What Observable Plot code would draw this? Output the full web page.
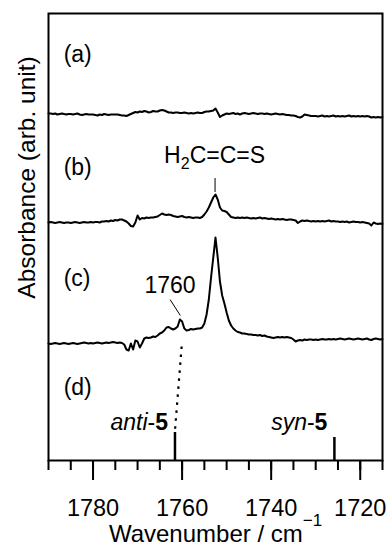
<!DOCTYPE html>
<html><head><meta charset="utf-8">
<script src="https://cdn.jsdelivr.net/npm/d3@7"></script>
<script src="https://cdn.jsdelivr.net/npm/@observablehq/plot@0.6"></script>
<style>
body{margin:0;background:#fff;}
svg{display:block;}
</style>
</head><body><div id="chart"></div>
<script>
// Wavenumber sampling grid (cm^-1), 1790 -> 1715 in 0.5 steps
const wavenumbers = d3.range(1790, 1714.9, -0.5);

// Trace (a) relative absorbance (arb. unit)
const traceA = [
 0.02,0.02,0.015,0.02,0.01,0.015,0.02,0.015,0.01,0.015,
 0.015,0.01,0.015,0.02,0.01,0.005,0.01,0.015,0.01,0.01,
 0.01,0.005,0.0,0.01,0.005,0.015,0.01,0.005,0.01,0.01,
 0.01,0.01,0.005,0.0,0.0,-0.005,0.005,0.015,0.025,0.035,
 0.03,0.04,0.035,0.045,0.04,0.03,0.035,0.045,0.04,0.04,
 0.05,0.055,0.05,0.04,0.03,0.03,0.025,0.03,0.03,0.025,
 0.025,0.03,0.025,0.02,0.025,0.02,0.025,0.03,0.025,0.025,
 0.035,0.04,0.04,0.045,0.05,0.07,0.03,-0.015,0.0,0.01,
 0.02,0.015,0.02,0.025,0.015,0.02,0.01,0.02,0.025,0.02,
 0.015,0.02,0.025,0.02,0.015,0.02,0.02,0.015,0.02,0.015,
 0.01,0.015,0.02,0.015,0.01,0.015,0.01,0.005,0.005,0.0,
 0.0,-0.005,-0.015,-0.02,-0.01,0.01,0.005,0.0,-0.005,-0.005,
 -0.005,-0.01,-0.005,0.0,-0.01,-0.005,-0.01,-0.005,0.0,-0.01,
 -0.005,-0.01,-0.005,-0.01,-0.005,0.0,-0.01,-0.005,-0.01,-0.005,
 -0.01,-0.005,-0.01,-0.005,-0.01,-0.02,-0.015,-0.02,-0.015,-0.02,
 -0.015
];
// Trace (b)
const traceB = [
 0.0,0.005,0.0,-0.005,0.0,0.005,0.0,-0.005,0.0,0.0,
 -0.005,0.0,0.005,0.0,-0.005,0.0,0.005,0.0,0.0,0.005,
 0.0,0.005,0.005,0.0,0.01,0.01,0.015,0.01,0.02,0.015,
 0.025,0.02,0.03,0.03,0.02,0.01,-0.01,-0.035,-0.04,0.0,
 0.07,0.03,0.045,0.04,0.05,0.045,0.05,0.05,0.055,0.06,
 0.075,0.09,0.08,0.075,0.08,0.075,0.065,0.06,0.055,0.06,
 0.065,0.055,0.05,0.055,0.05,0.045,0.05,0.05,0.045,0.055,
 0.08,0.11,0.15,0.2,0.25,0.28,0.23,0.15,0.12,0.115,
 0.105,0.08,0.055,0.05,0.045,0.05,0.045,0.05,0.045,0.05,
 0.045,0.04,0.045,0.04,0.045,0.05,0.04,0.045,0.04,0.035,
 0.04,0.035,0.03,0.035,0.03,0.035,0.03,0.025,0.03,0.03,
 0.025,0.02,-0.005,0.01,0.02,0.015,0.02,0.015,0.01,0.015,
 0.01,0.015,0.01,0.015,0.01,0.015,0.02,0.01,0.015,0.01,
 0.01,0.005,0.01,0.005,0.01,0.0,0.005,0.01,0.005,0.005,
 0.0,0.005,0.0,-0.005,-0.01,-0.03,0.0,-0.01,-0.015,-0.01,
 -0.015
];
// Trace (c)
const traceC = [
 0.0,-0.005,0.0,0.005,0.0,-0.005,0.0,0.005,0.0,-0.005,
 0.0,0.005,0.0,-0.005,0.0,0.005,0.01,0.005,0.0,0.005,
 0.0,0.005,0.01,0.005,0.0,0.005,0.01,0.005,0.01,0.015,
 0.01,0.005,0.01,0.005,-0.01,-0.06,-0.07,0.0,-0.06,0.03,
 0.02,-0.04,0.0,0.05,0.06,0.055,0.06,0.07,0.065,0.08,
 0.1,0.11,0.13,0.16,0.165,0.15,0.14,0.15,0.17,0.24,
 0.22,0.15,0.13,0.135,0.145,0.14,0.145,0.15,0.15,0.16,
 0.2,0.29,0.44,0.66,0.86,1.06,0.86,0.62,0.48,0.40,
 0.31,0.23,0.18,0.15,0.13,0.115,0.11,0.1,0.1,0.095,
 0.09,0.09,0.085,0.085,0.08,0.085,0.075,0.08,0.07,0.065,
 0.06,0.055,0.06,0.065,0.06,0.065,0.06,0.065,0.06,0.055,
 0.04,0.02,0.03,0.035,0.03,0.04,0.035,0.04,0.04,0.035,
 0.04,0.035,0.04,0.045,0.04,0.04,0.045,0.04,0.045,0.04,
 0.045,0.05,0.045,0.04,0.045,0.05,0.045,0.04,0.045,0.05,
 0.045,0.04,0.045,0.05,0.04,0.035,0.045,0.05,0.045,0.04,
 0.045
];
const traces = [traceA, traceB, traceC];
const traceOffsets = [3.45, 2.38, 1.17];
const panelLabels = ["(a)", "(b)", "(c)", "(d)"];

// (d) calculated stick spectrum
const stickWavenumbers = [1761.6, 1725.8];
const stickIntensities = [0.28, 0.23];
const stickLabels = ["anti-5", "syn-5"];

// Axis ticks
const majorTicks = [1780, 1760, 1740, 1720];
const minorTicks = [1790, 1785, 1780, 1775, 1770, 1765, 1760, 1755, 1750, 1745, 1740, 1735, 1730, 1725, 1720, 1715];

// Annotations
const peakAnnotations = ["H2C=C=S", "1760"];

// ---- build tables ----
const rows = traces.flatMap((vals, k) =>
  vals.map((v, i) => ({trace: panelLabels[k], wn: wavenumbers[i], y: v + traceOffsets[k]})));
const sticks = stickWavenumbers.map((wn, i) => ({wn, h: stickIntensities[i], label: stickLabels[i]}));

// layout constants for labels (data units)
const labelX = 1786.6;
const labelY = [4.06, 2.93, 1.82, 0.73];
const FONT = "'Liberation Sans', Arial, Helvetica, sans-serif";

const plot = Plot.plot({
  width: 388, height: 547,
  marginLeft: 48, marginRight: 6, marginTop: 13, marginBottom: 87,
  style: {fontFamily: FONT, fontSize: "23px", color: "black", background: "white", overflow: "visible"},
  x: {domain: [1790, 1715], label: null},
  y: {domain: [0, 4.47], axis: null, label: null},
  marks: [
    Plot.frame({stroke: "black", strokeWidth: 2}),
    Plot.axisX({ticks: minorTicks, tickSize: 10, tickFormat: () => "", strokeWidth: 2, label: null}),
    Plot.axisX({ticks: majorTicks, tickSize: 20, tickPadding: 19, tickFormat: d => String(d), strokeWidth: 2, fontSize: 23.5, label: null}),
    Plot.line(rows, {x: "wn", y: "y", z: "trace", stroke: "black", strokeWidth: 2, strokeLinejoin: "round"}),
    Plot.ruleX(sticks, {x: "wn", y1: 0, y2: "h", stroke: "black", strokeWidth: 2.5}),
    Plot.text(sticks, {x: "wn", y: 0.38, text: "label", textAnchor: "end", dx: -7, fontSize: 23}),
    Plot.text(panelLabels, {x: labelX, y: (d, i) => labelY[i], text: d => d, textAnchor: "start", fontSize: 23}),
    // H2C=C=S annotation
    Plot.text([peakAnnotations[0]], {x: 1752.7, y: 3.05, text: d => d, fontSize: 23}),
    Plot.ruleX([1752.6], {y1: 2.68, y2: 2.82, stroke: "black", strokeWidth: 1}),
    // 1760 annotation
    Plot.text([peakAnnotations[1]], {x: 1762.7, y: 1.75, text: d => d, fontSize: 23}),
    Plot.link([0], {x1: 1762.7, y1: 1.61, x2: 1760.4, y2: 1.45, stroke: "black", strokeWidth: 1}),
    // dotted correlation line
    Plot.link([0], {x1: 1760.1, y1: 1.14, x2: 1761.6, y2: 0.30, stroke: "black", strokeWidth: 2.2, strokeDasharray: "2.5 5.5"}),
    // axis titles
    Plot.text(["Wavenumber / cm"], {frameAnchor: "bottom", lineAnchor: "middle", textAnchor: "middle", dy: 74, text: d => d, fontSize: 24}),
    Plot.text(["Absorbance (arb. unit)"], {frameAnchor: "left", lineAnchor: "middle", textAnchor: "middle", rotate: -90, dx: -21, dy: -59.5, text: d => d, fontSize: 24.5})
  ]
});

const svg = d3.select(plot);
svg.selectAll("text").each(function() {
  const t = d3.select(this);
  const s = this.textContent;
  if (s === "H2C=C=S") {
    t.text(null);
    t.append("tspan").text("H");
    t.append("tspan").attr("font-size", 16).attr("dy", 6).text("2");
    t.append("tspan").attr("dy", -6).text("C=C=S");
  } else if (s === "anti-5" || s === "syn-5") {
    const [a, b] = s.split("-");
    t.text(null);
    t.append("tspan").attr("font-style", "italic").text(a);
    t.append("tspan").text("-");
    t.append("tspan").attr("font-weight", "bold").text(b);
  } else if (s === "Wavenumber / cm") {
    t.append("tspan").attr("font-size", 17).attr("dy", -16).text("\u22121");
  }
});
document.getElementById("chart").appendChild(plot);
</script>
</body></html>
